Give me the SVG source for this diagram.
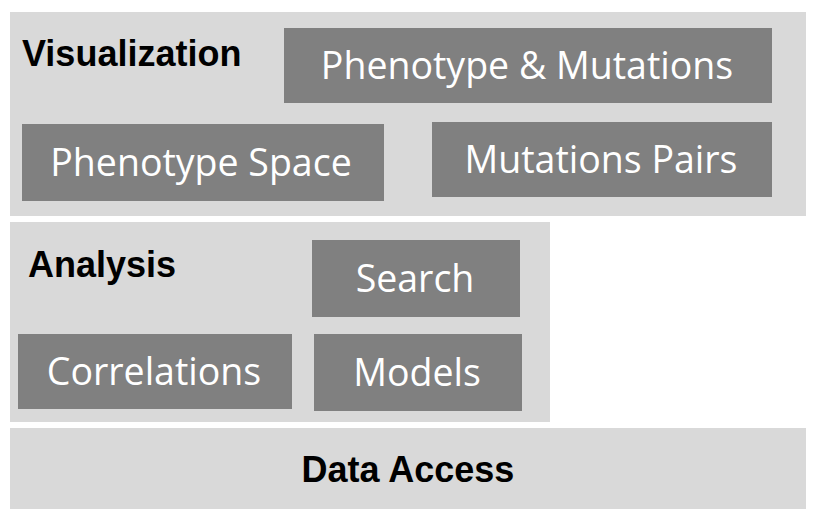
<svg xmlns="http://www.w3.org/2000/svg" width="820" height="528" viewBox="0 0 820 528">
<style>
.panel{fill:#d9d9d9}
.box{fill:#808080}
.lbl{font-family:"Open Sans","Liberation Sans",sans-serif;font-size:37.5px;fill:#ffffff;text-anchor:middle}
.hdr{font-family:"Liberation Sans",sans-serif;font-weight:bold;font-size:36px;fill:#000000}
</style>
<rect width="820" height="528" fill="#ffffff"/>
<g id="visualization">
<rect class="panel" x="10" y="12" width="796" height="204"/>
<text class="hdr" x="22" y="66">Visualization</text>
</g>
<g id="phenotype-mutations">
<rect class="box" x="284" y="28" width="488" height="75"/>
<text class="lbl" x="527" y="79">Phenotype &amp; Mutations</text>
</g>
<g id="phenotype-space">
<rect class="box" x="22" y="124" width="362" height="77"/>
<text class="lbl" x="201" y="176">Phenotype Space</text>
</g>
<g id="mutations-pairs">
<rect class="box" x="432" y="122" width="340" height="75"/>
<text class="lbl" x="601" y="173">Mutations Pairs</text>
</g>
<g id="analysis">
<rect class="panel" x="10" y="222" width="540" height="200"/>
<text class="hdr" x="28" y="277">Analysis</text>
</g>
<g id="search">
<rect class="box" x="312" y="240" width="208" height="77"/>
<text class="lbl" x="415" y="292">Search</text>
</g>
<g id="correlations">
<rect class="box" x="18" y="334" width="274" height="75"/>
<text class="lbl" x="154" y="385">Correlations</text>
</g>
<g id="models">
<rect class="box" x="314" y="334" width="208" height="77"/>
<text class="lbl" x="417" y="386">Models</text>
</g>
<g id="data-access">
<rect class="panel" x="10" y="428" width="796" height="81"/>
<text class="hdr" x="408" y="482" text-anchor="middle">Data Access</text>
</g>
<g id="connectors"></g>
</svg>
